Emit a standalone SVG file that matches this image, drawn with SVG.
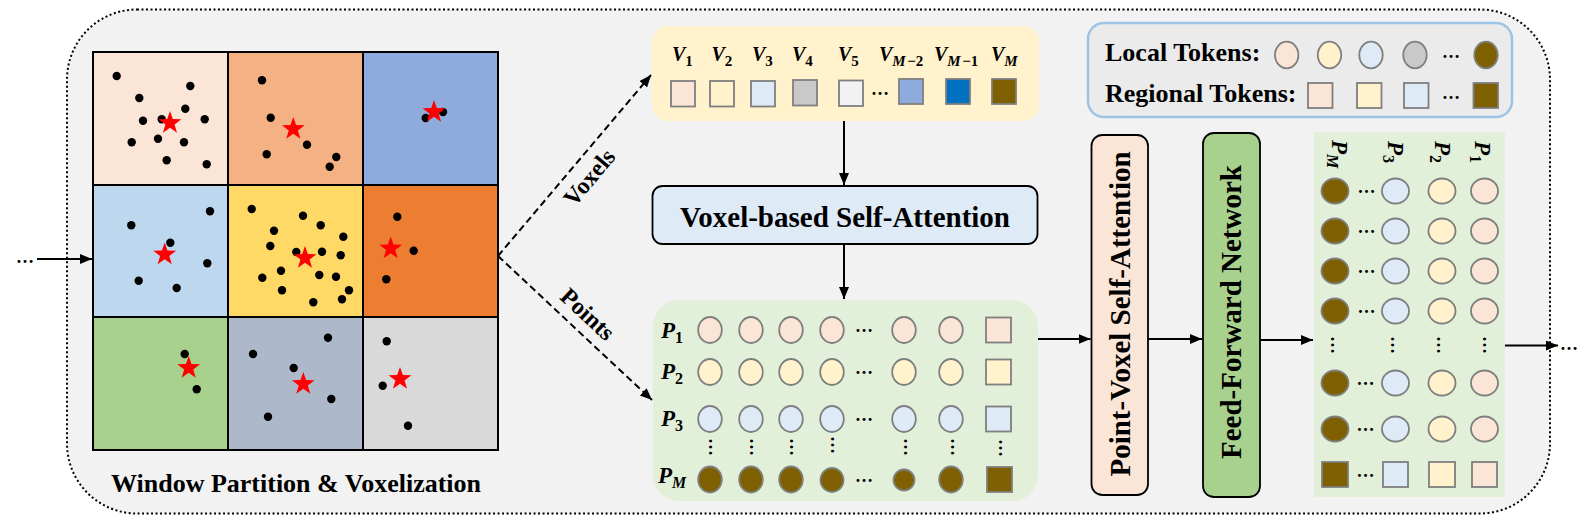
<svg xmlns="http://www.w3.org/2000/svg" width="1586" height="532" viewBox="0 0 1586 532">
<style>
.serif{font-family:"Liberation Serif","Times New Roman",serif;font-weight:bold;fill:#000}
.title{font-size:26px}
.big{font-size:29px}
.lab{font-size:24px}
.vm{font-style:italic;font-size:20px}
.pm{font-style:italic;font-size:23px}
.sub{font-size:15px;font-style:normal}
.psub{font-size:16px;font-style:normal}
.it{font-style:italic}
.cell{stroke:#000;stroke-width:2}
.tok{stroke:#7f7f7f;stroke-width:1.8}
.pt{fill:#000}
.star{fill:#ff0000}
.conn{stroke:#000;stroke-width:2;fill:none}
.dash{stroke-dasharray:7 4}
.dots{font-size:18px}
.box{stroke:#000;stroke-width:1.8}
.pk{fill:#fbe5d6}.yl{fill:#fff2cc}.bl{fill:#deebf7}.gr{fill:#c9c9c9}.wh{fill:#f2f2f2}.br{fill:#7f6000}.mb{fill:#8faadc}.db{fill:#0070c0}
</style>
<defs>
<polygon id="star" points="0,-12 2.82,-3.88 11.41,-3.71 4.56,1.48 7.05,9.71 0,4.8 -7.05,9.71 -4.56,1.48 -11.41,-3.71 -2.82,-3.88"/>
<marker id="ah" markerUnits="userSpaceOnUse" markerWidth="13" markerHeight="11" refX="12" refY="5" orient="auto">
<path d="M0,0 L12,5 L0,10 z" fill="#000"/>
</marker>
</defs>
<rect width="1586" height="532" fill="#fff"/>
<g id="frame">
<rect x="67" y="9.5" width="1483" height="504" rx="70" fill="#f2f2f2" stroke="#000" stroke-width="2" stroke-dasharray="2 2.5"/>
</g>

<g id="window-partition">
<rect class="cell" x="93" y="52" width="135" height="133" fill="#fbe5d6"/>
<rect class="cell" x="228" y="52" width="135" height="133" fill="#f4b183"/>
<rect class="cell" x="363" y="52" width="135" height="133" fill="#8faadc"/>
<rect class="cell" x="93" y="185" width="135" height="132" fill="#bdd7ee"/>
<rect class="cell" x="228" y="185" width="135" height="132" fill="#ffd966"/>
<rect class="cell" x="363" y="185" width="135" height="132" fill="#ed7d31"/>
<rect class="cell" x="93" y="317" width="135" height="133" fill="#a9d18e"/>
<rect class="cell" x="228" y="317" width="135" height="133" fill="#adb9ca"/>
<rect class="cell" x="363" y="317" width="135" height="133" fill="#d9d9d9"/>
<g class="pt">
<circle cx="116.7" cy="76" r="4.2"/><circle cx="190.3" cy="86" r="4.2"/><circle cx="139.3" cy="98" r="4.2"/><circle cx="185.3" cy="108.7" r="4.2"/><circle cx="143" cy="120.7" r="4.2"/><circle cx="161.7" cy="119.3" r="4.2"/><circle cx="204.7" cy="119.3" r="4.2"/><circle cx="131.7" cy="142.3" r="4.2"/><circle cx="158" cy="138.7" r="4.2"/><circle cx="184" cy="142.3" r="4.2"/><circle cx="166.7" cy="160.3" r="4.2"/><circle cx="206.7" cy="164.3" r="4.2"/>
<circle cx="262" cy="80.3" r="4.2"/><circle cx="270.7" cy="117.7" r="4.2"/><circle cx="307" cy="144.7" r="4.2"/><circle cx="266.7" cy="154.3" r="4.2"/><circle cx="336.3" cy="157" r="4.2"/><circle cx="329.7" cy="166.7" r="4.2"/>
<circle cx="425.7" cy="118" r="4.2"/><circle cx="443" cy="112" r="4.2"/>
<circle cx="210" cy="211.3" r="4.2"/><circle cx="131.3" cy="225.3" r="4.2"/><circle cx="170.3" cy="242.7" r="4.2"/><circle cx="207.3" cy="263.3" r="4.2"/><circle cx="138.7" cy="280.7" r="4.2"/><circle cx="176.7" cy="288" r="4.2"/>
<circle cx="251.7" cy="209" r="4.2"/><circle cx="303" cy="215.7" r="4.2"/><circle cx="320.7" cy="225.3" r="4.2"/><circle cx="274" cy="230.7" r="4.2"/><circle cx="343.3" cy="236.7" r="4.2"/><circle cx="270.3" cy="246" r="4.2"/><circle cx="296.3" cy="252" r="4.2"/><circle cx="322" cy="251.7" r="4.2"/><circle cx="340.7" cy="255.3" r="4.2"/><circle cx="281" cy="270.7" r="4.2"/><circle cx="262.3" cy="277.7" r="4.2"/><circle cx="319.3" cy="275" r="4.2"/><circle cx="336" cy="276.7" r="4.2"/><circle cx="282" cy="290.3" r="4.2"/><circle cx="349" cy="290.3" r="4.2"/><circle cx="342" cy="299.3" r="4.2"/><circle cx="313.3" cy="302.3" r="4.2"/>
<circle cx="397.3" cy="216.7" r="4.2"/><circle cx="413.7" cy="250.7" r="4.2"/><circle cx="386.3" cy="279.3" r="4.2"/>
<circle cx="184.7" cy="354" r="4.2"/><circle cx="196.7" cy="389.3" r="4.2"/>
<circle cx="328" cy="337.7" r="4.2"/><circle cx="253" cy="354" r="4.2"/><circle cx="293.7" cy="368" r="4.2"/><circle cx="331.3" cy="399" r="4.2"/><circle cx="268" cy="416.7" r="4.2"/>
<circle cx="386.7" cy="341.3" r="4.2"/><circle cx="382.7" cy="385.7" r="4.2"/><circle cx="408" cy="425.7" r="4.2"/>
</g>
<g class="star">
<use href="#star" x="170" y="123"/><use href="#star" x="293.3" y="129"/><use href="#star" x="434" y="112"/>
<use href="#star" x="164.7" y="254.5"/><use href="#star" x="305" y="258"/><use href="#star" x="390.7" y="248.5"/>
<use href="#star" x="188.7" y="368"/><use href="#star" x="303.3" y="384"/><use href="#star" x="400" y="379"/>
</g>
<text class="serif title" x="296" y="492" text-anchor="middle">Window Partition &amp; Voxelization</text>
</g>

<g id="voxels">
<rect x="652" y="26" width="387" height="95" rx="16" fill="#fff2cc"/>
<text class="serif vm" x="672" y="61">V<tspan class="sub" dy="5">1</tspan></text>
<text class="serif vm" x="711.5" y="61">V<tspan class="sub" dy="5">2</tspan></text>
<text class="serif vm" x="752" y="61">V<tspan class="sub" dy="5">3</tspan></text>
<text class="serif vm" x="792" y="61">V<tspan class="sub" dy="5">4</tspan></text>
<text class="serif vm" x="838" y="61">V<tspan class="sub" dy="5">5</tspan></text>
<text class="serif vm" x="879" y="61">V<tspan class="sub it" dy="5">M</tspan><tspan class="sub" dx="1.5">−2</tspan></text>
<text class="serif vm" x="934" y="61">V<tspan class="sub it" dy="5">M</tspan><tspan class="sub" dx="1.5">−1</tspan></text>
<text class="serif vm" x="991" y="61">V<tspan class="sub it" dy="5">M</tspan></text>
<rect class="tok pk" x="671" y="81" width="24" height="25.5"/>
<rect class="tok yl" x="710" y="81" width="24" height="25.5"/>
<rect class="tok bl" x="751" y="81" width="24" height="25.5"/>
<rect class="tok gr" x="793" y="80" width="24" height="25.5"/>
<rect class="tok wh" x="839" y="80.5" width="24" height="25.5"/>
<text class="serif dots" x="880" y="95" text-anchor="middle">…</text>
<rect class="tok mb" x="899" y="79" width="24" height="25"/>
<rect class="tok db" x="946" y="79" width="24" height="25"/>
<rect class="tok br" x="992" y="79" width="24" height="25"/>
</g>

<g id="voxel-self-attention">
<rect class="box" x="652.5" y="186" width="385" height="58" rx="10" fill="#deebf7"/>
<text class="serif big" x="845" y="227" text-anchor="middle">Voxel-based Self-Attention</text>
</g>

<g id="points">
<rect x="653" y="300" width="385" height="201" rx="26" fill="#e2f0d9"/>
<text class="serif pm" x="661" y="338">P<tspan class="psub" dy="5">1</tspan></text>
<text class="serif pm" x="661" y="379">P<tspan class="psub" dy="5">2</tspan></text>
<text class="serif pm" x="661" y="426">P<tspan class="psub" dy="5">3</tspan></text>
<text class="serif pm" x="658" y="483">P<tspan class="psub it" dy="5">M</tspan></text>
<g class="tok pk">
<ellipse cx="710" cy="330" rx="11.8" ry="13"/><ellipse cx="751" cy="330" rx="11.8" ry="13"/><ellipse cx="791" cy="330" rx="11.8" ry="13"/><ellipse cx="832" cy="330" rx="11.8" ry="13"/><ellipse cx="904" cy="330" rx="11.8" ry="13"/><ellipse cx="951" cy="330" rx="11.8" ry="13"/>
<rect x="986" y="317.5" width="25" height="25"/>
</g>
<g class="tok yl">
<ellipse cx="710" cy="372" rx="11.8" ry="13"/><ellipse cx="751" cy="372" rx="11.8" ry="13"/><ellipse cx="791" cy="372" rx="11.8" ry="13"/><ellipse cx="832" cy="372" rx="11.8" ry="13"/><ellipse cx="904" cy="372" rx="11.8" ry="13"/><ellipse cx="951" cy="372" rx="11.8" ry="13"/>
<rect x="986" y="359.5" width="25" height="25"/>
</g>
<g class="tok bl">
<ellipse cx="710" cy="419" rx="11.8" ry="13"/><ellipse cx="751" cy="419" rx="11.8" ry="13"/><ellipse cx="791" cy="419" rx="11.8" ry="13"/><ellipse cx="832" cy="419" rx="11.8" ry="13"/><ellipse cx="904" cy="419" rx="11.8" ry="13"/><ellipse cx="951" cy="419" rx="11.8" ry="13"/>
<rect x="986" y="406.5" width="25" height="25"/>
</g>
<g class="tok br">
<ellipse cx="710" cy="479.5" rx="11.8" ry="13"/><ellipse cx="751" cy="479.5" rx="11.8" ry="13"/><ellipse cx="791" cy="479.5" rx="11.8" ry="13"/><ellipse cx="832" cy="480" rx="11.5" ry="12"/><ellipse cx="904" cy="480" rx="10.5" ry="10.5"/><ellipse cx="951" cy="479.5" rx="11.8" ry="13"/>
<rect x="987" y="467" width="25" height="25"/>
</g>
<g class="serif dots" text-anchor="middle">
<text x="864" y="332">…</text><text x="864" y="374">…</text><text x="864" y="421">…</text><text x="864" y="482">…</text>
<text transform="translate(708.5,447) rotate(90)">…</text>
<text transform="translate(749.5,447) rotate(90)">…</text>
<text transform="translate(789.5,447) rotate(90)">…</text>
<text transform="translate(830.5,445) rotate(90)">…</text>
<text transform="translate(903.5,447) rotate(90)">…</text>
<text transform="translate(951,447) rotate(90)">…</text>
<text transform="translate(999,448) rotate(90)">…</text>
</g>
</g>

<g id="point-voxel-self-attention">
<rect class="box" x="1091.5" y="135" width="56.5" height="360" rx="11" fill="#fbe5d6"/>
<text class="serif big" transform="translate(1130,314) rotate(-90)" text-anchor="middle">Point-Voxel Self-Attention</text>
</g>

<g id="feed-forward-network">
<rect class="box" x="1203" y="133" width="57" height="364" rx="11" fill="#a9d18e"/>
<text class="serif big" transform="translate(1241,312) rotate(-90)" text-anchor="middle">Feed-Forward Network</text>
</g>

<g id="output-tokens">
<rect x="1314" y="132" width="191" height="365" fill="#e2f0d9"/>
<text class="serif pm" transform="translate(1332,140) rotate(90)">P<tspan class="psub it" dy="5">M</tspan></text>
<text class="serif pm" transform="translate(1388,141) rotate(90)">P<tspan class="psub" dy="5">3</tspan></text>
<text class="serif pm" transform="translate(1435,141) rotate(90)">P<tspan class="psub" dy="5">2</tspan></text>
<text class="serif pm" transform="translate(1475,141) rotate(90)">P<tspan class="psub" dy="5">1</tspan></text>
<g class="tok br">
<ellipse cx="1335" cy="191" rx="13.5" ry="12.5"/><ellipse cx="1335" cy="231" rx="13.5" ry="12.5"/><ellipse cx="1335" cy="271" rx="13.5" ry="12.5"/><ellipse cx="1335" cy="311" rx="13.5" ry="12.5"/><ellipse cx="1335" cy="383" rx="13.5" ry="12.5"/><ellipse cx="1335" cy="429" rx="13.5" ry="12.5"/>
<rect x="1322" y="462" width="26" height="25"/>
</g>
<g class="tok bl">
<ellipse cx="1395.5" cy="191" rx="13.5" ry="12.5"/><ellipse cx="1395.5" cy="231" rx="13.5" ry="12.5"/><ellipse cx="1395.5" cy="271" rx="13.5" ry="12.5"/><ellipse cx="1395.5" cy="311" rx="13.5" ry="12.5"/><ellipse cx="1395.5" cy="383" rx="13.5" ry="12.5"/><ellipse cx="1395.5" cy="429" rx="13.5" ry="12.5"/>
<rect x="1383" y="462" width="25" height="25"/>
</g>
<g class="tok yl">
<ellipse cx="1442" cy="191" rx="13.5" ry="12.5"/><ellipse cx="1442" cy="231" rx="13.5" ry="12.5"/><ellipse cx="1442" cy="271" rx="13.5" ry="12.5"/><ellipse cx="1442" cy="311" rx="13.5" ry="12.5"/><ellipse cx="1442" cy="383" rx="13.5" ry="12.5"/><ellipse cx="1442" cy="429" rx="13.5" ry="12.5"/>
<rect x="1429" y="462" width="26" height="25"/>
</g>
<g class="tok pk">
<ellipse cx="1484.5" cy="191" rx="13.5" ry="12.5"/><ellipse cx="1484.5" cy="231" rx="13.5" ry="12.5"/><ellipse cx="1484.5" cy="271" rx="13.5" ry="12.5"/><ellipse cx="1484.5" cy="311" rx="13.5" ry="12.5"/><ellipse cx="1484.5" cy="383" rx="13.5" ry="12.5"/><ellipse cx="1484.5" cy="429" rx="13.5" ry="12.5"/>
<rect x="1472" y="462" width="25" height="25"/>
</g>
<g class="serif dots" text-anchor="middle">
<text x="1366.5" y="193">…</text><text x="1366.5" y="233">…</text><text x="1366.5" y="273">…</text><text x="1366.5" y="313">…</text><text x="1365.5" y="385">…</text><text x="1365.5" y="431">…</text><text x="1365.5" y="477">…</text>
<text transform="translate(1331,345) rotate(90)">…</text>
<text transform="translate(1390.5,345) rotate(90)">…</text>
<text transform="translate(1437,345) rotate(90)">…</text>
<text transform="translate(1482.5,345) rotate(90)">…</text>
</g>
</g>

<g id="legend">
<rect x="1088" y="23" width="424" height="94" rx="16" fill="#ebebeb" stroke="#9dc3e6" stroke-width="2.5"/>
<text class="serif title" x="1105" y="61">Local Tokens:</text>
<text class="serif title" x="1105" y="102">Regional Tokens:</text>
<ellipse class="tok pk" cx="1286.7" cy="55" rx="11.7" ry="13.3"/>
<ellipse class="tok yl" cx="1329.5" cy="55" rx="11.7" ry="13.3"/>
<ellipse class="tok bl" cx="1371" cy="55" rx="11.7" ry="13.3"/>
<ellipse class="tok gr" cx="1415" cy="55" rx="11.7" ry="13.3"/>
<text class="serif dots" x="1451" y="58" text-anchor="middle">…</text>
<ellipse class="tok br" cx="1486" cy="55" rx="11.7" ry="13.3"/>
<rect class="tok pk" x="1308" y="83" width="24.5" height="25"/>
<rect class="tok yl" x="1357" y="83" width="24.5" height="25"/>
<rect class="tok bl" x="1404" y="83" width="24.5" height="25"/>
<text class="serif dots" x="1451" y="99" text-anchor="middle">…</text>
<rect class="tok br" x="1473.5" y="83" width="24.5" height="25"/>
</g>

<g id="connectors">
<text class="serif dots" x="25" y="263" text-anchor="middle">…</text>
<line class="conn" x1="37" y1="259" x2="92" y2="259" marker-end="url(#ah)"/>
<path class="conn dash" d="M498,256 L651,75" marker-end="url(#ah)"/>
<path class="conn dash" d="M498,256 L652,400" marker-end="url(#ah)"/>
<text class="serif lab" transform="translate(590,178) rotate(-50)" text-anchor="middle" y="7">Voxels</text>
<text class="serif lab" transform="translate(587,315) rotate(43)" text-anchor="middle" y="7">Points</text>
<line class="conn" x1="844" y1="121" x2="844" y2="185" marker-end="url(#ah)"/>
<line class="conn" x1="844" y1="244" x2="844" y2="299" marker-end="url(#ah)"/>
<line class="conn" x1="1038" y1="339" x2="1090.5" y2="339" marker-end="url(#ah)"/>
<line class="conn" x1="1148" y1="339" x2="1202" y2="339" marker-end="url(#ah)"/>
<line class="conn" x1="1260" y1="340" x2="1313" y2="340" marker-end="url(#ah)"/>
<line class="conn" x1="1505" y1="345.5" x2="1558" y2="345.5" marker-end="url(#ah)"/>
<text class="serif dots" x="1569" y="349.5" text-anchor="middle">…</text>
</g>
</svg>
